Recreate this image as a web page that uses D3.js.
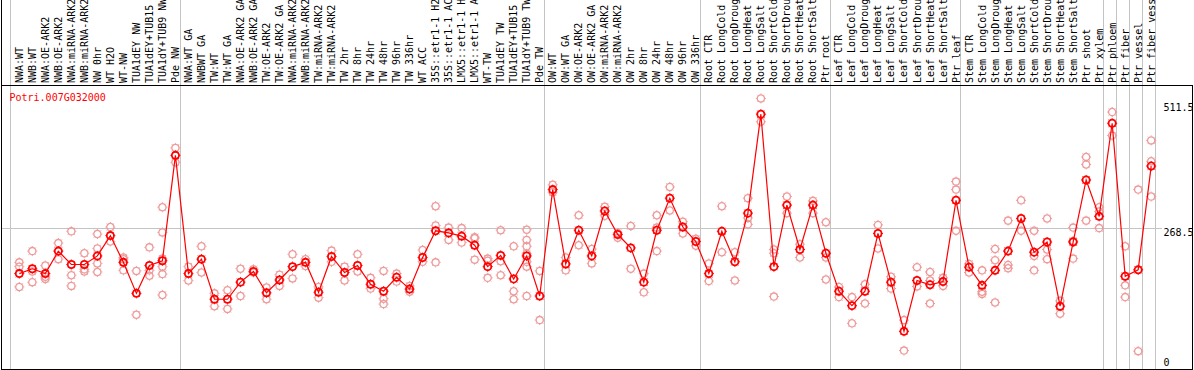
<!DOCTYPE html>
<html>
<head>
<meta charset="utf-8">
<script src="https://cdn.jsdelivr.net/npm/d3@7"></script>
<style>
  body { margin: 0; background: #fff; }
  svg { display: block; }
  text { font-family: "DejaVu Sans Mono", monospace; font-size: 10px; }
</style>
</head>
<body>
<div id="chart"></div>
<script>
// sample labels, one per column (as far as they show in the header)
const labels = [
  "NWA:WT", "NWB:WT", "NWA:OE-ARK2", "NWB:OE-ARK2", "NWA:miRNA-ARK2", "NWB:miRNA-ARK2",
  "NW 0hr", "WT H2O", "WT-NW", "TUA1dEY NW", "TUA1dEY+TUB15", "TUA1dY+TUB9 NW", "Pde NW",
  "NWA:WT GA", "NWBWT GA", "TW:WT", "TW:WT GA", "NWA:OE-ARK2 GA", "NWB:OE-ARK2 GA",
  "TW:OE-ARK2", "TW:OE-ARK2 GA", "NWA:miRNA-ARK2", "NWB:miRNA-ARK2", "TW:miRNA-ARK2",
  "TW:miRNA-ARK2", "TW 2hr", "TW 8hr", "TW 24hr", "TW 48hr", "TW 96hr", "TW 336hr",
  "WT ACC", "35S::etr1-1 H2", "35S::etr1-1 AC", "LMX5::etr1-1 H", "LMX5::etr1-1 A",
  "WT-TW", "TUA1dEY TW", "TUA1dEY+TUB15", "TUA1dY+TUB9 TW", "Pde TW",
  "OW:WT", "OW:WT GA", "OW:OE-ARK2", "OW:OE-ARK2 GA", "OW:miRNA-ARK2", "OW:miRNA-ARK2",
  "OW 2hr", "OW 8hr", "OW 24hr", "OW 48hr", "OW 96hr", "OW 336hr",
  "Root CTR", "Root LongCold", "Root LongDroug", "Root LongHeat", "Root LongSalt",
  "Root ShortCold", "Root ShortDrou", "Root ShortHeat", "Root ShortSalt", "Ptr root",
  "Leaf CTR", "Leaf LongCold", "Leaf LongDroug", "Leaf LongHeat", "Leaf LongSalt",
  "Leaf ShortCold", "Leaf ShortDrou", "Leaf ShortHeat", "Leaf ShortSalt", "Ptr leaf",
  "Stem CTR", "Stem LongCold", "Stem LongDroug", "Stem LongHeat", "Stem LongSalt",
  "Stem ShortCold", "Stem ShortDrou", "Stem ShortHeat", "Stem ShortSalt",
  "Ptr shoot", "Ptr xylem", "Ptr phloem", "Ptr fiber", "Ptr vessel", "Ptr fiber vess"
];

// mean expression per sample
const means = [
  184, 193, 184, 226, 201, 201, 217, 255, 205, 147, 199, 208, 405,
  184, 211, 136, 136, 168, 188, 148, 172, 197, 205, 149, 216, 186, 199, 164, 151, 177, 155,
  214, 264, 260, 254, 237, 197, 218, 174, 217, 142,
  341, 202, 265, 217, 301, 257, 232, 168, 265, 325, 271, 244,
  184, 263, 206, 297, 482, 197, 312, 229, 312, 222,
  151, 124, 151, 259, 168, 76, 171, 163, 169, 321,
  196, 162, 190, 226, 287, 224, 243, 123, 243, 359, 291,
  465, 179, 191, 385
];

// replicate values per sample
const reps = [
  [205, 197, 159], [226, 188, 168], [199, 178, 174], [241, 211], [263, 181, 161],
  [222, 192, 188], [258, 231, 203, 187], [271, 244], [214, 211, 190], [189, 107],
  [233, 190, 180], [308, 261, 212, 197, 183, 144], [419, 392],
  [197, 171], [235, 186], [147, 123], [153, 118], [193, 142], [192, 186], [158, 136],
  [182, 161], [220, 175], [211, 198], [159, 139], [227, 206], [197, 171], [220, 188],
  [176, 156], [189, 137, 127], [184, 169], [161, 150], [228, 206], [310, 274, 205],
  [270, 247], [269, 242], [252, 250, 210], [212, 208, 176], [265, 207, 181],
  [235, 151, 136], [266, 247, 235, 221, 206, 197, 142], [189, 97],
  [350, 336], [214, 190], [293, 237], [230, 203], [309, 292], [260, 251], [273, 193],
  [184, 149], [293, 270, 226], [346, 302], [281, 259], [249, 236],
  [203, 170], [310, 224], [224, 171], [325, 288, 276], [511.5, 468], [229, 222, 141],
  [328, 297], [239, 214], [320, 297], [280, 214, 173],
  [159, 140], [140, 91], [164, 128], [275, 231], [178, 156], [97, 40], [196, 160],
  [187, 171, 128], [176, 161], [356, 341, 264],
  [202, 186], [190, 150, 146], [230, 209, 130], [283, 200, 194], [321, 264],
  [264, 217, 190], [287, 229, 211], [133, 109], [270, 245, 212], [402, 388, 283],
  [308, 300, 269], [486, 442], [235, 162, 140], [341, 39], [433, 394, 328]
];

// first column of each block, plus the end
const groupStarts = [0, 13, 41, 53, 63, 73, 84, 85, 86, 87, 88];
const yTicks = [0, 268.5, 511.5];
const geneName = "Potri.007G032000";

const width = 1194;
const height = 370;
const plotTop = 85, plotBottom = 369;

const svg = d3.select("#chart")
  .append("svg")
  .attr("width", width)
  .attr("height", height);

const x = d3.scaleBand()
  .domain(d3.range(labels.length))
  .range([10.9, 1155.8]);
const px = (i) => x(i) + 8.4;

const y = d3.scaleLinear()
  .domain([0, 511.5])
  .range([372, 98.4]);

// grey block separators, full height
const edgeX = (i) => i < labels.length ? x(i) : x(labels.length - 1) + x.bandwidth();
svg.append("g")
  .selectAll("line")
  .data(groupStarts)
  .join("line")
  .attr("x1", (d) => Math.floor(edgeX(d)) + 0.5)
  .attr("x2", (d) => Math.floor(edgeX(d)) + 0.5)
  .attr("y1", 0)
  .attr("y2", plotBottom)
  .attr("stroke", "#c4c4c4");

// horizontal grey line at the middle tick
svg.append("line")
  .attr("x1", 1)
  .attr("x2", 1162)
  .attr("y1", Math.round(y(yTicks[1])) + 0.5)
  .attr("y2", Math.round(y(yTicks[1])) + 0.5)
  .attr("stroke", "#c4c4c4");

// frame
svg.append("line")
  .attr("x1", 1.5).attr("x2", 1.5).attr("y1", 0).attr("y2", plotBottom)
  .attr("stroke", "#000");
svg.append("line")
  .attr("x1", 1).attr("x2", 1193).attr("y1", plotTop + 0.5).attr("y2", plotTop + 0.5)
  .attr("stroke", "#000");
svg.append("line")
  .attr("x1", 1).attr("x2", 1193).attr("y1", plotBottom + 0.5).attr("y2", plotBottom + 0.5)
  .attr("stroke", "#000");
svg.append("line")
  .attr("x1", 1192.5).attr("x2", 1192.5).attr("y1", plotTop).attr("y2", plotBottom)
  .attr("stroke", "#000");

// rotated sample labels
svg.append("g")
  .selectAll("text")
  .data(labels)
  .join("text")
  .attr("transform", (d, i) => `translate(${px(i) + 3.5},83) rotate(-90)`)
  .attr("font-size", 9.5)
  .attr("fill", "#000")
  .text((d) => d);

// y axis on the right
const yAxis = svg.append("g")
  .attr("transform", "translate(1157.5,0)")
  .call(d3.axisRight(y).tickValues(yTicks).tickSize(0).tickPadding(6).tickFormat((d) => d));
yAxis.select(".domain").remove();
yAxis.selectAll("text")
  .attr("dy", 0)
  .attr("font-family", "DejaVu Sans Mono, monospace")
  .attr("font-size", 9.8)
  .attr("fill", "#000")
  .attr("y", (d) => Math.max(111, Math.min(365, y(d) + 7.5)) - y(d));

// little sun shaped marker
const spikes = (r1, r2) => d3.range(8).map((k) => {
  const a = k * Math.PI / 4;
  return `M${r1 * Math.cos(a)},${r1 * Math.sin(a)}L${r2 * Math.cos(a)},${r2 * Math.sin(a)}`;
}).join("");

function marker(g, color, sw) {
  g.append("circle").attr("r", 3.6).attr("fill", "none").attr("stroke", color).attr("stroke-width", sw);
  g.append("path").attr("d", spikes(4, 5)).attr("stroke", color).attr("stroke-width", 1);
}

// replicate points
const repPts = [];
reps.forEach((arr, i) => arr.forEach((v) => repPts.push({ i: i, v: v })));
svg.append("g")
  .selectAll("g")
  .data(repPts)
  .join("g")
  .attr("transform", (d) => `translate(${px(d.i)},${y(d.v)})`)
  .each(function () { marker(d3.select(this), "#ee9a9a", 1.3); });

// mean line
svg.append("path")
  .datum(means)
  .attr("fill", "none")
  .attr("stroke", "#ff0000")
  .attr("stroke-width", 1.2)
  .attr("d", d3.line().x((d, i) => px(i)).y((d) => y(d)));

// mean points
svg.append("g")
  .selectAll("g")
  .data(means)
  .join("g")
  .attr("transform", (d, i) => `translate(${px(i)},${y(d)})`)
  .each(function () { marker(d3.select(this), "#ff0000", 1.8); });

// gene name
svg.append("text")
  .attr("x", 9.5)
  .attr("y", 101)
  .attr("fill", "#ff0000")
  .text(geneName);
</script>
</body>
</html>
